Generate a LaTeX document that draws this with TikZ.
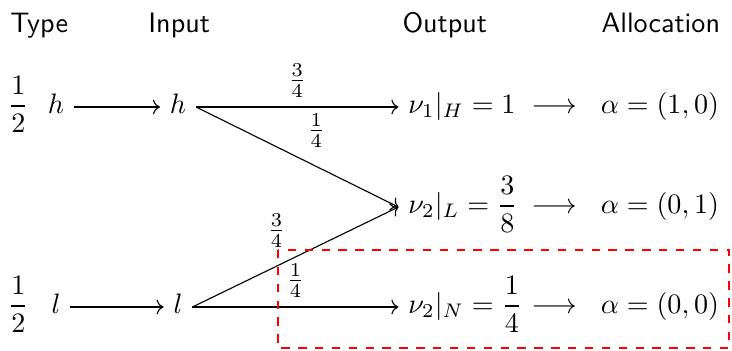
\documentclass[tikz,border=0pt]{standalone}
\usepackage{amsmath}
\usepackage{tikz}
\usetikzlibrary{arrows.meta,positioning}

\begin{document}
\begin{tikzpicture}[every node/.style={anchor=mid},
    head/.style={font=\sffamily,anchor=base},
    outnode/.style={anchor=mid west},
    flow/.style={->}]
  \useasboundingbox (0,0) rectangle (9.15,-4.375);
  % column headings
  \node[head] (hType)  at (0.49,-0.4) {Type};
  \node[head] (hIn)    at (2.24,-0.4) {Input};
  \node[head] (hOut)   at (5.56,-0.4) {Output};
  \node[head] (hAlloc) at (8.26,-0.4) {Allocation};
  % types and their prior
  \node (p1) at (0.23,-1.3375) {$\dfrac{1}{2}$};
  \node (t1) at (0.70,-1.3375) {$h$};
  \node (p3) at (0.23,-3.8375) {$\dfrac{1}{2}$};
  \node (t3) at (0.70,-3.8375) {$l$};
  % reported input
  \node (i1) at (2.225,-1.3375) {$h$};
  \node (i3) at (2.225,-3.8375) {$l$};
  % outputs
  \node[outnode] (o1) at (4.98,-1.3375) {$\nu_1|_H = 1$};
  \node[outnode] (o2) at (4.98,-2.5875) {$\nu_2|_L = \dfrac{3}{8}$};
  \node[outnode] (o3) at (4.98,-3.8375) {$\nu_2|_N = \dfrac{1}{4}$};
  % allocations
  \node (r1) at (6.925,-1.3375) {$\longrightarrow$};
  \node (r2) at (6.925,-2.5875) {$\longrightarrow$};
  \node (r3) at (6.925,-3.8375) {$\longrightarrow$};
  \node (a1) at (8.25,-1.3375) {$\alpha = (1,0)$};
  \node (a2) at (8.25,-2.5875) {$\alpha = (0,1)$};
  \node (a3) at (8.25,-3.8375) {$\alpha = (0,0)$};
  % transitions
  \draw[flow] (t1.mid east) -- (i1.mid west);
  \draw[flow] (t3.mid east) -- (i3.mid west);
  \draw[flow] (i1.mid east) -- node[above] {$\frac{3}{4}$} (o1.mid west);
  \draw[flow] (i1.mid east) -- node[above right] {$\frac{1}{4}$} (o2.mid west);
  \draw[flow] (i3.mid east) -- node[above left] {$\frac{3}{4}$} (o2.mid west);
  \draw[flow] (i3.mid east) -- node[above] {$\frac{1}{4}$} (o3.mid west);
  % highlighted case
  \coordinate (boxA) at (3.475,-3.125);
  \coordinate (boxB) at (9.1125,-4.35);
  \draw[red,dashed] (boxA) rectangle (boxB);
\end{tikzpicture}
\end{document}
